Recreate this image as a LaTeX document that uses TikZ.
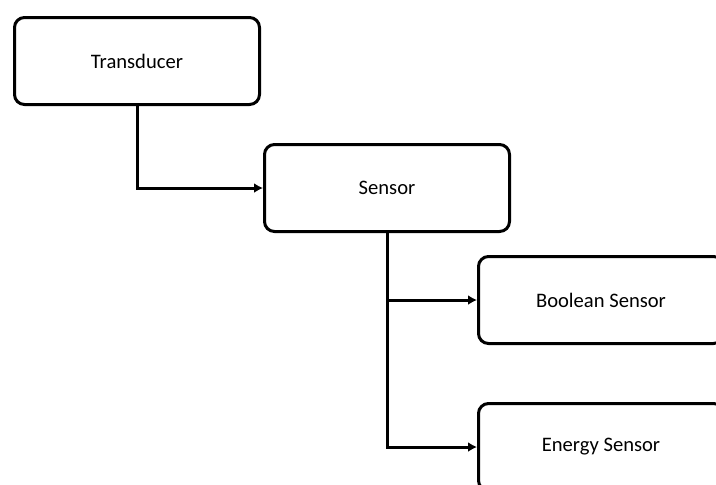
\documentclass[tikz,border=0pt]{standalone}
\usepackage{fontspec}
\setmainfont{Carlito}
\usepackage{tikz}
\usetikzlibrary{arrows.meta}

\begin{document}
\begin{tikzpicture}[
      x=0.5pt,y=-0.5pt,
      >={Latex[length=4.5pt,width=5pt]},
      line width=1.5pt,
      box/.style={
        draw,rounded corners=5pt,minimum width=122.5pt,minimum height=43.5pt,
        inner sep=0pt,font=\fontsize{10.3}{12}\selectfont
      },
    ]
    \useasboundingbox (0,0) rectangle (716,484);
    \clip (0,0) rectangle (716,484);
    \node[box] (trans) at (137,61) {Transducer};
    \node[box] (sensor) at (387,188) {Sensor};
    \node[box] (bool) at (601,300) {Boolean Sensor};
    \node[box] (energy) at (601,447) {Energy Sensor};
    \draw[->] (trans.south) |- (sensor.west);
    \draw[->] (sensor.south) |- (bool.west);
    \draw[->] (sensor.south) |- (energy.west);
  \end{tikzpicture}
\end{document}
